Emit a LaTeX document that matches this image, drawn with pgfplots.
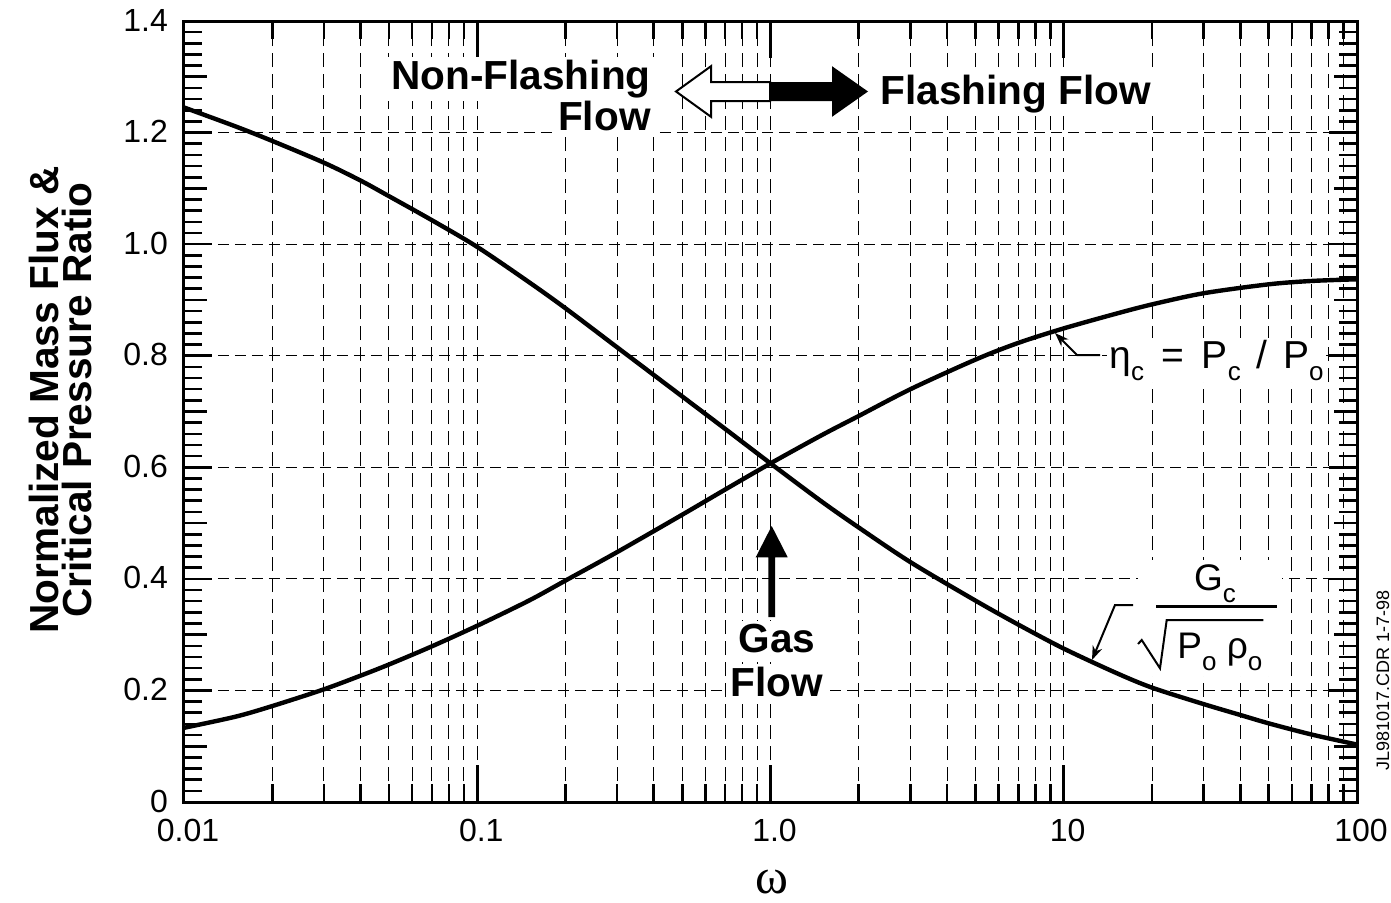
\documentclass[border=0pt]{standalone}
\usepackage{pgfplots}
\pgfplotsset{compat=1.18}
\usepackage{fontspec}
\setmainfont{Liberation Sans}
\newfontfamily\seriffont{Liberation Serif}
\usetikzlibrary{arrows.meta}
\newcommand{\sbs}[1]{\raisebox{-6pt}{\fontsize{13}{13}\selectfont #1}}
\begin{document}
\begin{tikzpicture}
\begin{axis}[scale only axis, width=586.5pt, height=390.5pt,
  xmode=log, xmin=0.01, xmax=100, ymin=0, ymax=1.4,
  axis line style={line width=1.5pt},
  tick align=inside, tick style={black, line width=1.3pt},
  tick label style={font=\fontsize{16}{16}\selectfont},
  grid style={black, line width=0.5pt, dash pattern=on 7pt off 3.5pt},
  xtick={0.01,0.1,1,10,100},
  xticklabels={\mbox{0.01},\mbox{0.1},\mbox{1.0},\mbox{10},\mbox{100}},
  minor xtick={0.02,0.03,0.04,0.05,0.06,0.07,0.08,0.09,
               0.2,0.3,0.4,0.5,0.6,0.7,0.8,0.9,
               2,3,4,5,6,7,8,9,
               20,30,40,50,60,70,80,90},
  xmajorgrids, xminorgrids,
  major tick length=18.5pt, minor tick length=9pt,
  ytick=\empty,
  xticklabel style={yshift=-5pt, xshift=2pt},
]
\addplot[draw=none] coordinates {(1,0.5)};
\end{axis}
\begin{axis}[scale only axis, width=586.5pt, height=390.5pt,
  xmode=log, xmin=0.01, xmax=100, ymin=0, ymax=1.4,
  axis line style={line width=1.5pt},
  tick align=inside, tick style={black, line width=1.3pt},
  tick label style={font=\fontsize{16}{16}\selectfont},
  grid style={black, line width=0.5pt, dash pattern=on 5.5pt off 3pt},
  xtick=\empty,
  ytick={0,0.2,0.4,0.6,0.8,1.0,1.2,1.4},
  yticklabels={\mbox{0},\mbox{0.2},\mbox{0.4},\mbox{0.6},\mbox{0.8},\mbox{1.0},\mbox{1.2},\mbox{1.4}},
  minor y tick num=9,
  ymajorgrids,
  major tick length=14pt, minor tick length=9pt,
  extra y ticks={0.1,0.3,0.5,0.7,0.9,1.1,1.3},
  extra y tick labels={},
  extra y tick style={major tick length=11.5pt, grid=none},
  yticklabel style={xshift=-4.5pt, yshift=0.5pt},
]
% eta_c = Pc/Po
\addplot[black, line width=2.2pt, smooth] table {
x y
0.01 0.133
0.015 0.153
0.02 0.172
0.03 0.202
0.04 0.2265
0.05 0.2465
0.07 0.279
0.1 0.316
0.15 0.361
0.2 0.397
0.3 0.448
0.5 0.515
0.7 0.560
1 0.607
1.5 0.658
2 0.692
3 0.740
5 0.793
7 0.823
10 0.849
15 0.875
20 0.892
30 0.912
50 0.928
70 0.934
100 0.937
};
% Gc / sqrt(Po rho_o)
\addplot[black, line width=2.2pt, smooth] table {
x y
0.01 1.245
0.015 1.211
0.02 1.185
0.03 1.146
0.04 1.114
0.05 1.086
0.07 1.043
0.1 0.995
0.15 0.932
0.2 0.885
0.3 0.815
0.5 0.727
0.7 0.669
1 0.607
1.5 0.538
2 0.492
3 0.430
5 0.361
7 0.318
10 0.275
15 0.232
20 0.205
30 0.1755
40 0.156
50 0.141
70 0.121
100 0.103
};
\end{axis}
% ---- annotations (1px = 0.5pt; origin at axis lower-left) ----
\begin{scope}[font=\fontsize{20.3}{20.3}\selectfont\bfseries]
\node[anchor=base east, fill=white, inner sep=1.5pt] at (235pt,356.5pt) {Non-Flashing};
\node[anchor=base east, fill=white, inner sep=1.5pt] at (235pt,336pt) {Flow};
\node[anchor=base west, fill=white, inner sep=1.5pt] at (346.5pt,349pt) {Flashing Flow};
\node[anchor=base, fill=white, inner sep=1.5pt] at (296.5pt,75pt) {Gas};
\node[anchor=base, fill=white, inner sep=1.5pt] at (296.5pt,53pt) {Flow};
\end{scope}
% double arrow
\filldraw[fill=white, draw=black, line width=1pt, line join=miter]
  (246pt,355.25pt) -- (263.5pt,367.9pt) -- (263.5pt,360pt) -- (293pt,360pt)
  -- (293pt,350.5pt) -- (263.5pt,350.5pt) -- (263.5pt,342.6pt) -- cycle;
\fill[black] (293pt,360pt) -- (324pt,360pt) -- (324pt,367.9pt) -- (342pt,355.25pt)
  -- (324pt,342.6pt) -- (324pt,350.5pt) -- (293pt,350.5pt) -- cycle;
% gas flow arrow
\fill[black] (293.85pt,138pt) -- (301.85pt,122.35pt) -- (295.5pt,122.35pt) -- (295.5pt,92.5pt)
  -- (292.2pt,92.5pt) -- (292.2pt,122.35pt) -- (285.85pt,122.35pt) -- cycle;
% eta label
\node[anchor=base west, fill=white, inner sep=1pt, font=\fontsize{19.5}{19.5}\selectfont]
  at (461.5pt,217pt) {η\sbs{c}\hspace{0.45em}=\hspace{0.45em}P\sbs{c}\hspace{0.4em}/\hspace{0.4em}P\sbs{o}};
\draw[line width=1pt, -{Stealth[length=7pt,width=5pt]}] (458pt,223.5pt) -- (446.5pt,223.5pt) -- (435.5pt,234.5pt);
% G fraction
\fill[white] (477pt,63pt) rectangle (549pt,121pt);
\node[anchor=base, font=\fontsize{18.5}{18.5}\selectfont] at (515.5pt,106pt) {G\sbs{c}};
\draw[line width=1.5pt] (486pt,97.65pt) -- (546.5pt,97.65pt);
\draw[line width=1pt] (477pt,79pt) -- (478.85pt,81pt) -- (488pt,66.85pt) -- (491.35pt,91pt) -- (539.65pt,91pt);
\node[anchor=base west, font=\fontsize{18.5}{18.5}\selectfont, inner sep=0pt] at (496.5pt,72pt) {P\sbs{o} ρ\sbs{o}};
\draw[line width=1pt, -{Stealth[length=7pt,width=5pt]}] (474.5pt,98.5pt) -- (465.5pt,98.5pt) -- (454pt,71pt);
% axis title
\node[rotate=90, anchor=base, font=\fontsize{20.3}{20.3}\selectfont\bfseries] at (-62.5pt,201pt) {Normalized Mass Flux \&};
\node[rotate=90, anchor=base, font=\fontsize{20.3}{20.3}\selectfont\bfseries] at (-46pt,201pt) {Critical Pressure Ratio};
\node[anchor=base, inner sep=0pt, font=\fontsize{25}{25}\selectfont\seriffont] at (294pt,-45.5pt) {ω};
\node[rotate=90, anchor=center, font=\fontsize{9}{9}\selectfont] at (599.5pt,61pt) {JL981017.CDR 1-7-98};
\pgfresetboundingbox
\path (-92pt,-50pt) rectangle (603.5pt,401pt);
\end{tikzpicture}
\end{document}
